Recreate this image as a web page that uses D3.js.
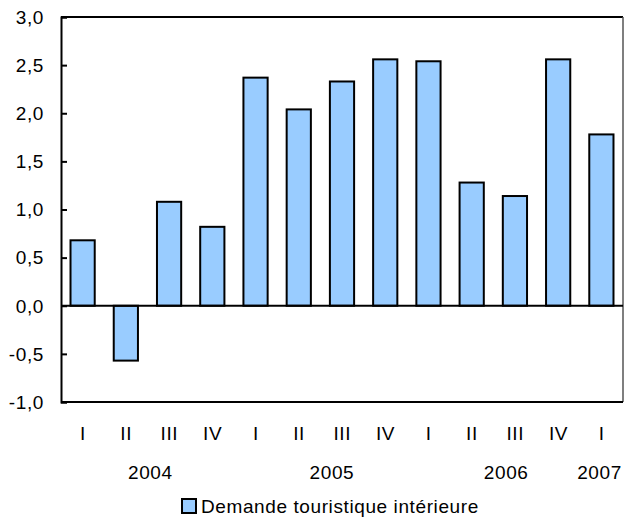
<!DOCTYPE html>
<html lang="fr">
<head>
  <meta charset="UTF-8">
  <title>Demande touristique intérieure</title>
  <script src="https://d3js.org/d3.v7.min.js"></script>
  <style>
    body { margin: 0; background: #fff; }
    text { font-family: "Liberation Sans", Arial, Helvetica, sans-serif; fill: #000; }
    .lbl { font-size: 19px; letter-spacing: 0.6px; }
  </style>
</head>
<body>
  <script>
    // data
    const quarters = ["I", "II", "III", "IV", "I", "II", "III", "IV", "I", "II", "III", "IV", "I"];
    const values = [0.68, -0.57, 1.08, 0.82, 2.37, 2.04, 2.33, 2.56, 2.54, 1.28, 1.14, 2.56, 1.78];
    const years = ["2004", "2005", "2006", "2007"];
    const yearPos = [2.06, 6.26, 10.29, 12.45]; // centre, in band units from the left edge
    const yTicks = [-1, -0.5, 0, 0.5, 1, 1.5, 2, 2.5, 3];
    const seriesName = "Demande touristique intérieure";

    const width = 625, height = 517;
    const margin = { top: 17, right: 2, bottom: 115, left: 61 };

    const svg = d3.select("body").append("svg")
      .attr("width", width).attr("height", height);

    const idx = d3.range(values.length);
    const x = d3.scaleBand()
      .domain(idx)
      .range([margin.left, width - margin.right])
      .paddingInner(0.44).paddingOuter(0.22);

    const y = d3.scaleLinear()
      .domain([-1, 3])
      .range([height - margin.bottom, margin.top]);

    const fmt = d => d3.format(".1f")(d).replace(".", ",").replace("−", "-");

    // bars
    svg.selectAll(".bar")
      .data(values)
      .enter().append("rect")
      .attr("class", "bar")
      .attr("x", (d, i) => x(i))
      .attr("y", d => y(Math.max(0, d)))
      .attr("width", x.bandwidth())
      .attr("height", d => Math.abs(y(d) - y(0)))
      .attr("fill", "#99ccff")
      .attr("stroke", "#000")
      .attr("stroke-width", 2);

    // frame
    svg.append("line")
      .attr("x1", margin.left).attr("x2", width - margin.right)
      .attr("y1", y(3)).attr("y2", y(3))
      .attr("stroke", "#000").attr("stroke-width", 2);
    svg.append("line")
      .attr("x1", width - margin.right).attr("x2", width - margin.right)
      .attr("y1", y(3)).attr("y2", y(-1))
      .attr("stroke", "#555").attr("stroke-width", 1.5);
    svg.append("line")
      .attr("x1", margin.left).attr("x2", width - margin.right)
      .attr("y1", y(-1)).attr("y2", y(-1))
      .attr("stroke", "#000").attr("stroke-width", 2);
    // zero line
    svg.append("line")
      .attr("x1", margin.left).attr("x2", width - margin.right)
      .attr("y1", y(0)).attr("y2", y(0))
      .attr("stroke", "#000").attr("stroke-width", 2);

    // y axis
    const yAxis = svg.append("g")
      .attr("transform", `translate(${margin.left},0)`)
      .call(d3.axisRight(y).tickValues(yTicks).tickSize(6).tickFormat(""));
    yAxis.select(".domain").attr("stroke", "#000").attr("stroke-width", 2);
    yAxis.selectAll(".tick line").attr("stroke", "#000").attr("stroke-width", 2);

    svg.selectAll(".ylab")
      .data(yTicks)
      .enter().append("text")
      .attr("class", "lbl")
      .attr("x", margin.left - 17)
      .attr("y", d => y(d))
      .attr("dy", "0.36em")
      .attr("text-anchor", "end")
      .text(fmt);

    // quarter labels
    svg.selectAll(".qlab")
      .data(quarters)
      .enter().append("text")
      .attr("class", "lbl")
      .attr("x", (d, i) => x(i) + x.bandwidth() / 2 + 0.3)
      .attr("y", 440)
      .attr("text-anchor", "middle")
      .text(d => d);

    // year labels
    svg.selectAll(".ylbl")
      .data(years)
      .enter().append("text")
      .attr("class", "lbl")
      .attr("x", (d, i) => margin.left + x.step() * yearPos[i] + 0.3)
      .attr("y", 479)
      .attr("text-anchor", "middle")
      .text(d => d);

    // legend
    svg.append("rect")
      .attr("x", 182).attr("y", 499)
      .attr("width", 14).attr("height", 14)
      .attr("fill", "#99ccff").attr("stroke", "#000").attr("stroke-width", 2);
    svg.append("text")
      .attr("x", 201).attr("y", 513)
      .attr("class", "lbl")
      .text(seriesName);
  </script>
</body>
</html>
